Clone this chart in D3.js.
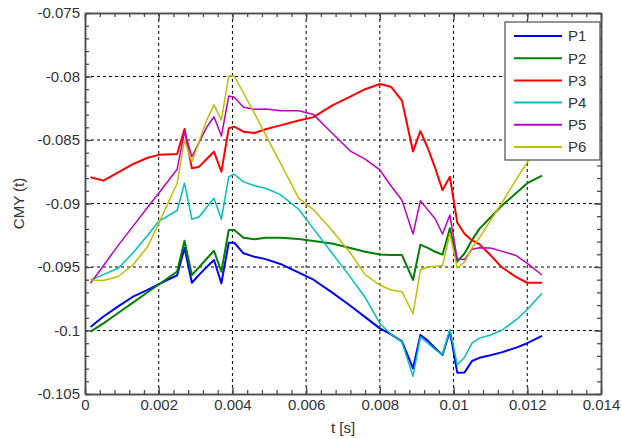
<!DOCTYPE html>
<html>
<head>
<meta charset="utf-8">
<script src="https://cdn.jsdelivr.net/npm/d3@7"></script>
<style>
  html, body { margin: 0; padding: 0; background: #ffffff; }
  svg { display: block; font-family: "Liberation Sans", Arial, sans-serif; }
</style>
</head>
<body>
<svg id="chart" width="621" height="439"></svg>
<script>
// ---- data (time in ms, values in units of 1e-3) ----
const timeMs = [0.15, 0.5, 0.9, 1.3, 1.7, 2.0, 2.5, 2.7, 2.9, 3.1, 3.3, 3.5, 3.7, 3.9, 4.05, 4.3, 4.6, 4.9, 5.3, 5.8, 6.2, 6.7, 7.2, 7.6, 8.0, 8.3, 8.6, 8.9, 9.1, 9.3, 9.5, 9.7, 9.9, 10.1, 10.3, 10.5, 10.7, 11.0, 11.3, 11.7, 12.0, 12.4];

const seriesNames = ["P1", "P2", "P3", "P4", "P5", "P6"];
const seriesColors = ["#0000ff", "#008000", "#ff0000", "#00bfbf", "#bf00bf", "#bfbf00"];

const p1 = [-99.72, -98.9, -98.1, -97.34, -96.8, -96.35, -95.65, -93.5, -96.24, -95.6, -95.0, -94.45, -96.28, -93.09, -93.09, -93.92, -94.2, -94.38, -94.76, -95.45, -96.0, -97.0, -98.05, -98.95, -99.83, -100.3, -100.85, -102.98, -100.35, -100.8, -101.4, -101.93, -100.04, -103.32, -103.3, -102.4, -102.15, -101.95, -101.72, -101.35, -101.0, -100.43];
const p2 = [-100.09, -99.44, -98.62, -97.8, -96.99, -96.38, -95.35, -92.93, -95.63, -95.0, -94.35, -93.72, -95.37, -92.09, -92.09, -92.7, -92.82, -92.69, -92.69, -92.8, -92.95, -93.15, -93.5, -93.8, -94.02, -94.06, -94.06, -96.02, -93.24, -93.5, -93.8, -94.03, -91.95, -94.58, -93.92, -92.88, -92.0, -91.1, -90.2, -89.17, -88.4, -87.81];
const p3 = [-87.94, -88.2, -87.55, -86.9, -86.4, -86.17, -86.1, -84.13, -87.23, -87.1, -86.5, -85.92, -87.5, -84.08, -83.95, -84.35, -84.45, -84.15, -83.85, -83.47, -83.2, -82.3, -81.58, -81.0, -80.59, -80.8, -81.9, -85.9, -84.3, -85.63, -87.2, -88.95, -87.89, -91.5, -92.4, -92.9, -93.2, -94.06, -95.0, -95.8, -96.24, -96.24];
const p4 = [-96.02, -95.6, -95.1, -93.9, -92.5, -91.4, -90.55, -88.41, -91.24, -91.04, -90.3, -89.59, -91.24, -87.89, -87.7, -88.3, -88.6, -88.8, -89.3, -90.45, -92.0, -93.9, -95.8, -97.4, -99.43, -100.3, -100.9, -103.6, -100.5, -101.0, -101.5, -101.9, -99.91, -102.7, -102.1, -101.0, -100.6, -100.35, -100.0, -99.15, -98.35, -97.07];
const p5 = [-96.28, -94.9, -93.3, -91.8, -90.3, -89.2, -87.3, -84.35, -86.31, -85.17, -84.0, -83.17, -84.69, -81.54, -81.64, -82.43, -82.58, -82.56, -82.7, -82.7, -83.0, -84.45, -85.87, -86.5, -87.36, -88.6, -89.75, -92.4, -89.78, -90.5, -91.2, -92.4, -90.91, -94.37, -94.4, -93.6, -93.48, -93.5, -93.75, -94.1, -94.71, -95.63];
const p6 = [-96.02, -96.07, -95.75, -94.84, -93.4, -91.56, -88.41, -85.0, -86.71, -85.1, -83.43, -82.24, -83.43, -79.96, -79.96, -81.3, -82.9, -84.6, -86.8, -89.6, -90.5, -92.1, -93.9, -95.6, -96.42, -96.81, -96.94, -98.7, -95.24, -94.98, -94.95, -94.88, -92.35, -95.1, -94.6, -93.5, -92.7, -91.35, -90.0, -88.1, -86.75, -84.9];
const seriesValues = [p1, p2, p3, p4, p5, p6];

const xTickValues = [0, 0.002, 0.004, 0.006, 0.008, 0.01, 0.012, 0.014];
const xTickLabels = ["0", "0.002", "0.004", "0.006", "0.008", "0.01", "0.012", "0.014"];
const yTickValues = [-0.105, -0.1, -0.095, -0.09, -0.085, -0.08, -0.075];
const yTickLabels = ["-0.105", "-0.1", "-0.095", "-0.09", "-0.085", "-0.08", "-0.075"];
const xLabel = "t [s]";
const yLabel = "CMY (t)";

// ---- layout ----
const L = 85, R = 601, T = 13, B = 394;
const svg = d3.select("#chart");
const x = d3.scaleLinear().domain([0, 0.014]).range([L, R]);
const y = d3.scaleLinear().domain([-0.105, -0.075]).range([B, T]);

const xMinor = d3.range(0, 36).map(i => i * 0.0004);
const yMinor = d3.range(0, 31).map(i => -0.105 + i * 0.001);
const axisColor = "#4d4d4d";
const fontSize = 15;

// grid
const grid = svg.append("g");
grid.selectAll("line.gx").data(xTickValues.slice(1, -1)).join("line")
  .attr("x1", d => x(d)).attr("x2", d => x(d)).attr("y1", T).attr("y2", B)
  .attr("stroke", "#000").attr("stroke-width", 1).attr("stroke-dasharray", "3,3");
grid.selectAll("line.gy").data(yTickValues.slice(1, -1)).join("line")
  .attr("y1", d => y(d)).attr("y2", d => y(d)).attr("x1", L).attr("x2", R)
  .attr("stroke", "#000").attr("stroke-width", 1).attr("stroke-dasharray", "3,3");

// series
const line = d3.line().x(d => x(d[0] / 1000)).y(d => y(d[1] / 1000));
seriesValues.forEach((vals, i) => {
  const pts = timeMs.map((t, j) => [t, vals[j]]);
  svg.append("path").datum(pts)
    .attr("d", line).attr("fill", "none")
    .attr("stroke", seriesColors[i])
    .attr("stroke-width", i < 3 ? 2 : 1.5)
    .attr("stroke-linejoin", "round");
});

// axes (ticks inward, all four sides)
function styleAxis(g) {
  g.select(".domain").attr("stroke", axisColor).attr("stroke-width", 1.5);
  g.selectAll(".tick line").attr("stroke", axisColor).attr("stroke-width", 1.3);
  g.selectAll("text").attr("fill", "#333").style("font-size", fontSize + "px")
    .style("font-family", "'Liberation Sans', Arial, sans-serif");
}
// minor ticks
svg.append("g").attr("transform", `translate(0,${B})`)
  .call(d3.axisBottom(x).tickValues(xMinor).tickSize(-4).tickFormat("").tickSizeOuter(0))
  .call(styleAxis);
svg.append("g").attr("transform", `translate(0,${T})`)
  .call(d3.axisTop(x).tickValues(xMinor).tickSize(-4).tickFormat("").tickSizeOuter(0))
  .call(styleAxis);
svg.append("g").attr("transform", `translate(${L},0)`)
  .call(d3.axisLeft(y).tickValues(yMinor).tickSize(-4).tickFormat("").tickSizeOuter(0))
  .call(styleAxis);
svg.append("g").attr("transform", `translate(${R},0)`)
  .call(d3.axisRight(y).tickValues(yMinor).tickSize(-4).tickFormat("").tickSizeOuter(0))
  .call(styleAxis);
// major ticks + labels
svg.append("g").attr("transform", `translate(0,${B})`)
  .call(d3.axisBottom(x).tickValues(xTickValues).tickSizeInner(-7).tickSizeOuter(0).tickPadding(5)
    .tickFormat((d, i) => xTickLabels[i]))
  .call(styleAxis);
svg.append("g").attr("transform", `translate(0,${T})`)
  .call(d3.axisTop(x).tickValues(xTickValues).tickSizeInner(-7).tickSizeOuter(0).tickFormat(""))
  .call(styleAxis);
svg.append("g").attr("transform", `translate(${L},0)`)
  .call(d3.axisLeft(y).tickValues(yTickValues).tickSizeInner(-7).tickSizeOuter(0).tickPadding(5)
    .tickFormat((d, i) => yTickLabels[i]))
  .call(styleAxis);
svg.append("g").attr("transform", `translate(${R},0)`)
  .call(d3.axisRight(y).tickValues(yTickValues).tickSizeInner(-7).tickSizeOuter(0).tickFormat(""))
  .call(styleAxis);

// axis titles
svg.append("text").attr("x", (L + R) / 2).attr("y", 433).attr("text-anchor", "middle")
  .attr("fill", "#333").style("font-size", fontSize + "px").text(xLabel);
svg.append("text").attr("transform", `translate(24,${(T + B) / 2}) rotate(-90)`)
  .attr("text-anchor", "middle").attr("fill", "#333").style("font-size", fontSize + "px").text(yLabel);

// legend
const lg = svg.append("g");
lg.append("rect").attr("x", 505).attr("y", 22).attr("width", 95).attr("height", 138)
  .attr("fill", "#fff").attr("stroke", axisColor).attr("stroke-width", 1.2);
seriesNames.forEach((name, i) => {
  const cy = 36 + i * 22.2;
  lg.append("line").attr("x1", 514).attr("x2", 562).attr("y1", cy).attr("y2", cy)
    .attr("stroke", seriesColors[i]).attr("stroke-width", 2);
  lg.append("text").attr("x", 568).attr("y", cy).attr("dy", "0.36em")
    .attr("fill", "#333").style("font-size", fontSize + "px").text(name);
});
</script>
</body>
</html>
